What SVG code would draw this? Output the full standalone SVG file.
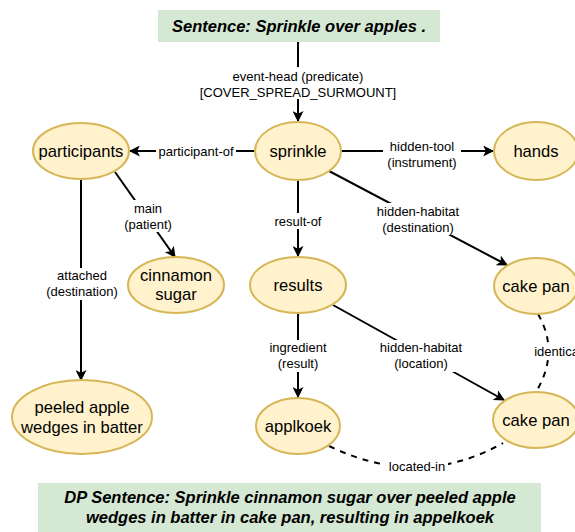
<svg xmlns="http://www.w3.org/2000/svg" width="575" height="532" viewBox="0 0 575 532">
<style>
.node ellipse{fill:#FFF2CC;stroke:#D6B656;stroke-width:2}
.node text{font-family:"Liberation Sans",Arial,sans-serif;font-size:16.6px;fill:#000;text-anchor:middle}
.title rect{fill:#D5E8D4}
.title text{font-family:"Liberation Sans",Arial,sans-serif;font-size:16.5px;font-weight:bold;font-style:italic;text-anchor:middle;fill:#000}
.edge{fill:none;stroke:#000;stroke-width:2}
.dash{stroke-dasharray:6 6}
.lbl rect{fill:#fff}
.lbl text{font-family:"Liberation Sans",Arial,sans-serif;font-size:13px;text-anchor:middle;fill:#000}
</style>
<defs>
<marker id="arr" viewBox="0 0 10 10" refX="9" refY="5" markerWidth="5.5" markerHeight="5.5" orient="auto" markerUnits="strokeWidth">
<path d="M0,0 L10,5 L0,10 L2.5,5 Z" fill="#000"/>
</marker>
</defs>
<rect width="575" height="532" fill="#fff"/>
<g id="title-top" class="title">
<rect x="158" y="10" width="282" height="32"/>
<text x="299" y="32">Sentence: Sprinkle over apples .</text>
</g>
<g id="title-bottom" class="title">
<rect x="38" y="483" width="503" height="49"/>
<text x="290" y="503">DP Sentence: Sprinkle cinnamon sugar over peeled apple</text>
<text x="290" y="523">wedges in batter in cake pan, resulting in appelkoek</text>
</g>
<g id="connectors">
<path class="edge" d="M298,42 L298,121" marker-end="url(#arr)"/>
<path class="edge" d="M255,151 L130,151" marker-end="url(#arr)"/>
<path class="edge" d="M341,151 L493,151" marker-end="url(#arr)"/>
<path class="edge" d="M298,180 L298,256" marker-end="url(#arr)"/>
<path class="edge" d="M329,171 L507,265" marker-end="url(#arr)"/>
<path class="edge" d="M115,172 L175,257" marker-end="url(#arr)"/>
<path class="edge" d="M81,179 L81,380" marker-end="url(#arr)"/>
<path class="edge" d="M298,313 L298,397" marker-end="url(#arr)"/>
<path class="edge" d="M333,305 L504,400" marker-end="url(#arr)"/>
<path class="edge dash" d="M538,314 Q560,352 536,392"/>
<path class="edge dash" d="M329,446 Q420,490 503,443"/>
<g class="lbl">
<rect x="226" y="67" width="144" height="32"/>
<text x="298" y="81">event-head (predicate)</text>
<text x="298" y="97">[COVER_SPREAD_SURMOUNT]</text>
<rect x="156" y="143" width="80" height="16"/>
<text x="196" y="155.5">participant-of</text>
<rect x="383" y="138" width="78" height="32"/>
<text x="422" y="150.5">hidden-tool</text>
<text x="422" y="166.5">(instrument)</text>
<rect x="373" y="203" width="90" height="32"/>
<text x="418" y="216">hidden-habitat</text>
<text x="418" y="232">(destination)</text>
<rect x="273" y="213" width="50" height="16"/>
<text x="298" y="225.5">result-of</text>
<rect x="123" y="200" width="50" height="32"/>
<text x="148" y="213">main</text>
<text x="148" y="229">(patient)</text>
<rect x="43" y="268" width="78" height="32"/>
<text x="82" y="280">attached</text>
<text x="82" y="296">(destination)</text>
<rect x="267" y="340" width="62" height="32"/>
<text x="298" y="352">ingredient</text>
<text x="298" y="368">(result)</text>
<rect x="376" y="340" width="90" height="32"/>
<text x="421" y="352">hidden-habitat</text>
<text x="421" y="368">(location)</text>
<rect x="526" y="344" width="60" height="16"/>
<text x="558" y="356">identical</text>
<rect x="386" y="459" width="62" height="16"/>
<text x="417" y="471">located-in</text>
</g>
</g>
<g id="sprinkle" class="node"><ellipse cx="298" cy="151" rx="43" ry="29"/><text x="298" y="157">sprinkle</text></g>
<g id="participants" class="node"><ellipse cx="81" cy="151" rx="48" ry="28"/><text x="81" y="157">participants</text></g>
<g id="hands" class="node"><ellipse cx="536" cy="151" rx="42" ry="29"/><text x="536" y="157">hands</text></g>
<g id="cinnamon-sugar" class="node"><ellipse cx="176" cy="285" rx="48" ry="28"/><text x="176" y="281">cinnamon</text><text x="176" y="300">sugar</text></g>
<g id="results" class="node"><ellipse cx="298" cy="285" rx="48" ry="28"/><text x="298" y="291">results</text></g>
<g id="cake-pan-1" class="node"><ellipse cx="536" cy="286" rx="42" ry="28"/><text x="536" y="292">cake pan</text></g>
<g id="peeled-apple" class="node"><ellipse cx="82" cy="417" rx="70" ry="37"/><text x="82" y="413">peeled apple</text><text x="82" y="433">wedges in batter</text></g>
<g id="applkoek" class="node"><ellipse cx="298" cy="426" rx="42" ry="28"/><text x="298" y="432">applkoek</text></g>
<g id="cake-pan-2" class="node"><ellipse cx="536" cy="420" rx="43" ry="28"/><text x="536" y="426">cake pan</text></g>
</svg>
